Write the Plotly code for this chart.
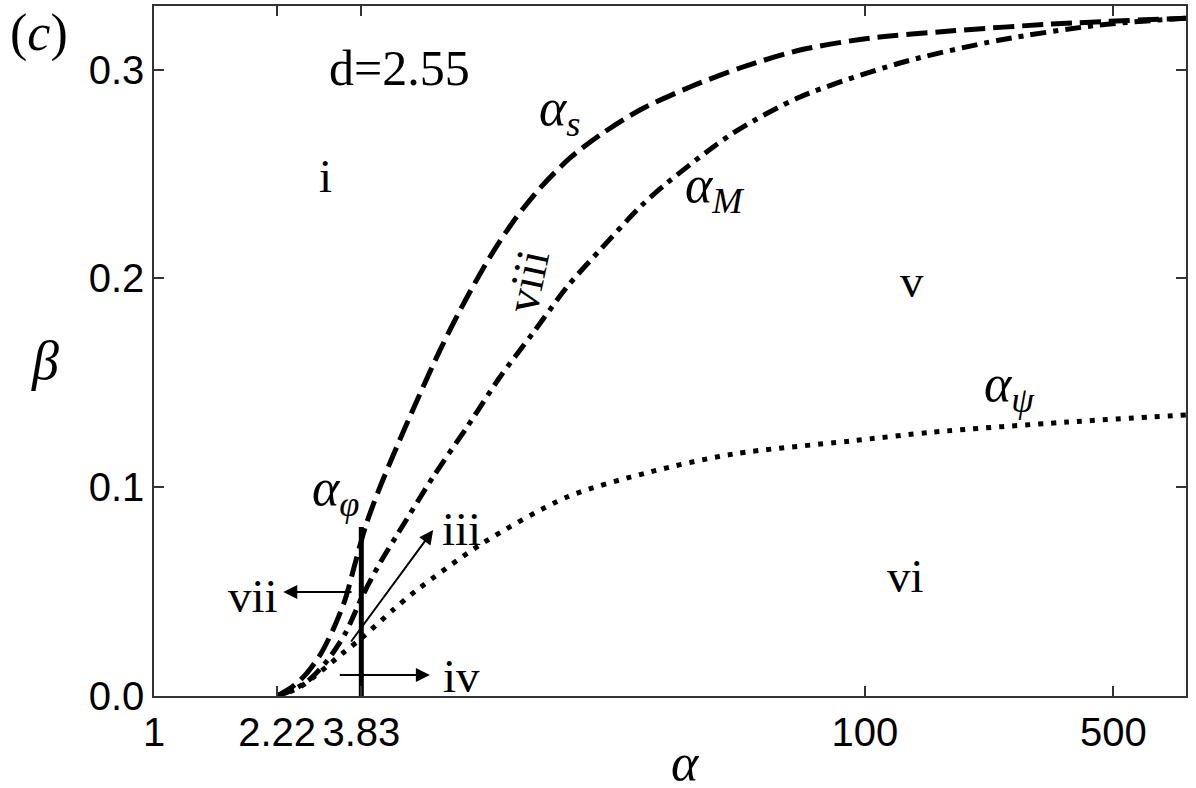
import numpy as np
import plotly.graph_objects as go

# ---- data ----
alpha_s_x = [2.218, 2.445, 2.677, 2.931, 3.187, 3.445, 3.700, 3.947, 4.267, 4.673, 5.424, 6.377, 7.496, 8.813,
             10.36, 12.19, 14.80, 17.97, 23.28, 32.19, 44.51, 65.65, 103.3, 173.4, 331.5, 805]
alpha_s_y = [0.0, 0.0043, 0.0105, 0.0196, 0.0316, 0.0460, 0.0651, 0.0819, 0.0977, 0.1140, 0.1394, 0.1657, 0.1892, 0.2103,
             0.2284, 0.2433, 0.2577, 0.2687, 0.2807, 0.2917, 0.3008, 0.3094, 0.3151, 0.3185, 0.3218, 0.3247]

alpha_M_x = [2.218, 2.460, 2.747, 3.066, 3.445, 3.871, 4.323, 4.826, 6.094, 7.595, 9.404, 11.65, 14.51, 17.97,
             23.28, 27.73, 42.54, 65.65, 125.5, 239.8, 458.1, 805]
alpha_M_y = [0.0, 0.0029, 0.0081, 0.0168, 0.0297, 0.0484, 0.0637, 0.0771, 0.1049, 0.1288, 0.1528, 0.1739, 0.1959, 0.2136,
             0.2342, 0.2457, 0.2696, 0.2869, 0.3032, 0.3142, 0.3214, 0.3247]

alpha_psi_x = [2.218, 2.575, 3.401, 3.871, 4.703, 5.494, 8.424, 14.51, 24.85, 42.54, 90.76, 155.4, 370.0, 805]
alpha_psi_y = [0.0, 0.0043, 0.0206, 0.0283, 0.0412, 0.0508, 0.0733, 0.0953, 0.1073, 0.1159, 0.1221, 0.1264, 0.1312, 0.1346]

alpha_phi_x = [3.83, 3.83]
alpha_phi_y = [0.0, 0.081]

x_tickvals = [1, 2.22, 3.83, 100, 500]
x_ticktext = ["1", "2.22", "3.83", "100", "500"]
y_tickvals = [0.0, 0.1, 0.2, 0.3]
y_ticktext = ["0.0", "0.1", "0.2", "0.3"]

# region labels (alpha, beta)
region_text = ["i", "v", "vi"]
region_alpha = [3.03, 135.6, 129.6]
region_beta = [0.249, 0.199, 0.0575]

# curve labels (alpha, beta)
curve_text = ["<i>α</i><sub><i>s</i></sub>", "<i>α</i><sub><i>M</i></sub>", "<i>α</i><sub><i>ψ</i></sub>", "<i>α</i><sub><i>φ</i></sub>"]
curve_alpha = [13.87, 37.85, 255.8, 3.25]
curve_beta = [0.280, 0.243, 0.148, 0.098]

# arrows: tail (alpha, beta) -> head (alpha, beta), label
arrow_tail_a = [3.63, 3.56, 3.30]
arrow_tail_b = [0.0498, 0.0254, 0.010]
arrow_head_a = [2.31, 6.10, 5.97]
arrow_head_b = [0.0498, 0.0795, 0.010]
arrow_label = ["vii", "iii", "iv"]
arrow_label_a = [1.90, 7.31, 7.35]
arrow_label_b = [0.0480, 0.0800, 0.0098]

fig = go.Figure()
lw = 5
fig.add_trace(go.Scatter(x=alpha_s_x, y=alpha_s_y, mode="lines", line=dict(color="black", width=lw, dash="21px,8px", shape="spline", smoothing=0.8), showlegend=False))
fig.add_trace(go.Scatter(x=alpha_M_x, y=alpha_M_y, mode="lines", line=dict(color="black", width=lw, dash="16px,7px,5px,7px", shape="spline", smoothing=0.8), showlegend=False))
fig.add_trace(go.Scatter(x=alpha_psi_x, y=alpha_psi_y, mode="lines", line=dict(color="black", width=lw, dash="5px,8px", shape="spline", smoothing=0.8), showlegend=False))
fig.add_trace(go.Scatter(x=alpha_phi_x, y=alpha_phi_y, mode="lines", line=dict(color="black", width=5), showlegend=False))

serif = "Liberation Serif"
ann = []
for t, a, b in zip(region_text, region_alpha, region_beta):
    ann.append(dict(x=np.log10(a), y=b, xref="x", yref="y", text=t, showarrow=False, font=dict(family=serif, size=47, color="black")))
ann.append(dict(x=np.log10(11.2), y=0.199, xref="x", yref="y", text="viii", textangle=-78, showarrow=False, font=dict(family=serif, size=47, color="black")))
ann.append(dict(x=np.log10(4.92), y=0.301, xref="x", yref="y", text="d=2.55", showarrow=False, font=dict(family=serif, size=50, color="black")))
for t, a, b in zip(curve_text, curve_alpha, curve_beta):
    ann.append(dict(x=np.log10(a), y=b, xref="x", yref="y", text=t, showarrow=False, font=dict(family=serif, size=52, color="black")))
for ta, tb, ha, hb in zip(arrow_tail_a, arrow_tail_b, arrow_head_a, arrow_head_b):
    ann.append(dict(x=np.log10(ha), y=hb, ax=np.log10(ta), ay=tb, xref="x", yref="y", axref="x", ayref="y", text="", showarrow=True,
                    arrowhead=2, arrowsize=1.4, arrowwidth=2, arrowcolor="black"))
for t, a, b in zip(arrow_label, arrow_label_a, arrow_label_b):
    ann.append(dict(x=np.log10(a), y=b, xref="x", yref="y", text=t, showarrow=False, font=dict(family=serif, size=47, color="black")))
# panel label and axis titles
ann.append(dict(x=0.0, y=1.0, xref="paper", yref="paper", xshift=-146, yshift=4, xanchor="left", yanchor="top", text="(<i>c</i>)", showarrow=False, font=dict(family=serif, size=52, color="black")))
ann.append(dict(x=0.5155, y=0.0, xref="paper", yref="paper", yshift=-66, xanchor="center", yanchor="middle", text="<i>α</i>", showarrow=False, font=dict(family=serif, size=52, color="black")))
ann.append(dict(x=0.0, y=0.485, xref="paper", yref="paper", xshift=-109, xanchor="center", yanchor="middle", text="<i>β</i>", showarrow=False, font=dict(family=serif, size=54, color="black")))

fig.update_layout(
    width=1196, height=788,
    margin=dict(l=154, r=10, t=6, b=92),
    plot_bgcolor="white", paper_bgcolor="white",
    annotations=ann,
    xaxis=dict(type="log", range=[0, np.log10(800)], tickvals=x_tickvals, ticktext=x_ticktext, automargin=False,
               ticks="inside", ticklen=10, tickwidth=1.5, tickcolor="#333", mirror="ticks",
               showline=True, linecolor="#333", linewidth=1.5, showgrid=False, zeroline=False,
               tickfont=dict(family="Arial", size=40, color="black")),
    yaxis=dict(range=[0, 0.3305], tickvals=y_tickvals, ticktext=y_ticktext, automargin=False,
               ticks="inside", ticklen=10, tickwidth=1.5, tickcolor="#333", mirror="ticks",
               showline=True, linecolor="#333", linewidth=1.5, showgrid=False, zeroline=False,
               tickfont=dict(family="Arial", size=40, color="black")),
)
fig.write_html("out.html", config={"displayModeBar": False},
               post_script="document.body.style.margin='0';document.body.style.overflow='hidden';")
